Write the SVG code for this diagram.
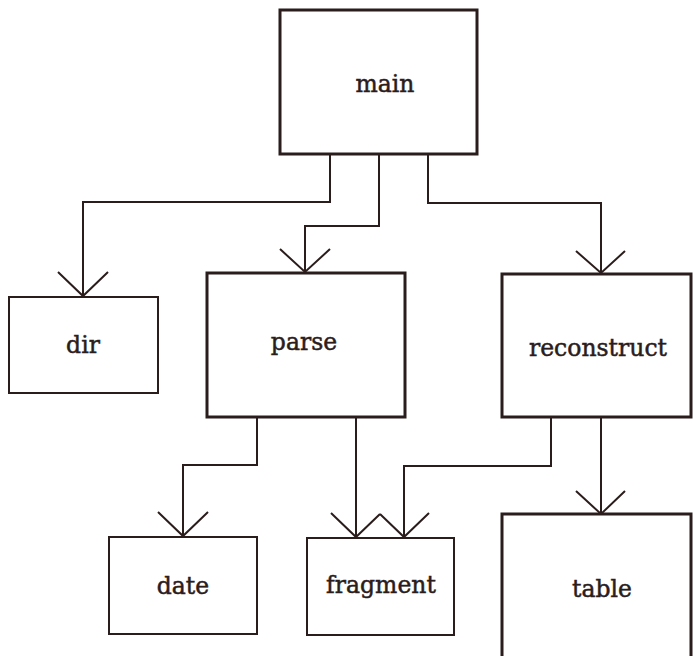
<svg xmlns="http://www.w3.org/2000/svg" width="693" height="656" viewBox="0 0 693 656">
  <style>
    .box { fill: #ffffff; stroke: #2b1d1c; }
    .major { stroke-width: 3; }
    .minor { stroke-width: 2; }
    .label { font-family: "DejaVu Serif", "Liberation Serif", serif; font-size: 23.5px; fill: #2b1d1c; stroke: #2b1d1c; stroke-width: 0.5; text-anchor: middle; }
    .wire { fill: none; stroke: #2b1d1c; stroke-width: 2; stroke-linejoin: miter; }
  </style>
  <rect width="693" height="656" fill="#ffffff"/>

  <g id="connectors">
    <!-- main -> dir -->
    <polyline class="wire" points="330,155 330,202 83,202 83,296"/>
    <polyline class="wire" points="58,272 83,296 108,272"/>
    <!-- main -> parse -->
    <polyline class="wire" points="379,155 379,226 305,226 305,272"/>
    <polyline class="wire" points="280,249 305,272 330,249"/>
    <!-- main -> reconstruct -->
    <polyline class="wire" points="428,155 428,203 601,203 601,273"/>
    <polyline class="wire" points="576,251 601,273 625,251"/>
    <!-- parse -> date -->
    <polyline class="wire" points="257,417 257,465 183,465 183,536"/>
    <polyline class="wire" points="158,512 183,536 208,512"/>
    <!-- parse -> fragment -->
    <polyline class="wire" points="356,417 356,537"/>
    <polyline class="wire" points="331,513 356,537 380,514"/>
    <!-- reconstruct -> fragment -->
    <polyline class="wire" points="551,417 551,466 404,466 404,537"/>
    <polyline class="wire" points="380,514 404,537 429,513"/>
    <!-- reconstruct -> table -->
    <polyline class="wire" points="601,417 601,514"/>
    <polyline class="wire" points="576,491 601,514 625,491"/>
  </g>

  <g id="main">
    <rect class="box major" x="280" y="10" width="197" height="144"/>
    <text class="label" x="385" y="92">main</text>
  </g>
  <g id="dir">
    <rect class="box minor" x="9" y="297" width="149" height="96"/>
    <text class="label" x="83" y="353">dir</text>
  </g>
  <g id="parse">
    <rect class="box major" x="207" y="273" width="198" height="144"/>
    <text class="label" x="304" y="350">parse</text>
  </g>
  <g id="reconstruct">
    <rect class="box major" x="502" y="274" width="189" height="143"/>
    <text class="label" x="598" y="356">reconstruct</text>
  </g>
  <g id="date">
    <rect class="box minor" x="109" y="537" width="148" height="97"/>
    <text class="label" x="183" y="594">date</text>
  </g>
  <g id="fragment">
    <rect class="box minor" x="307" y="538" width="147" height="97"/>
    <text class="label" x="381" y="593">fragment</text>
  </g>
  <g id="table">
    <rect class="box major" x="502" y="514" width="189" height="160"/>
    <text class="label" x="602" y="597">table</text>
  </g>
</svg>
